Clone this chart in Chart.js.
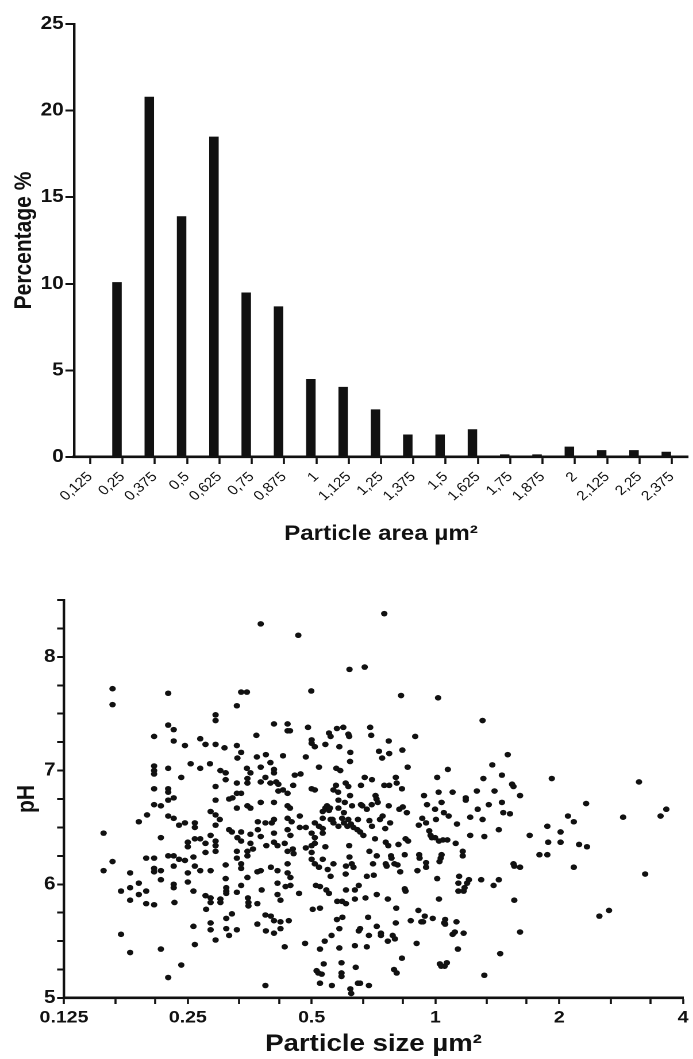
<!DOCTYPE html>
<html>
<head>
<meta charset="utf-8">
<script src="https://cdn.jsdelivr.net/npm/chart.js@4.4.1/dist/chart.umd.min.js"></script>
<style>
  html, body { margin: 0; padding: 0; background: #fff; }
  body { width: 693px; height: 1059px; position: relative; overflow: hidden; }
  /* the figure is stretched horizontally (~1.15x), so draw narrow and widen */
  canvas { position: absolute; left: 0; transform-origin: 0 0; transform: scaleX(1.1493); }
  #bars { top: 0; }
  #scatter { top: 585px; }
</style>
</head>
<body>
<canvas id="bars" width="603" height="550"></canvas>
<canvas id="scatter" width="603" height="474"></canvas>
<script>
// ---- histogram: particle area bins (µm²) vs percentage ----
const areaBins = ['0,125', '0,25', '0,375', '0,5', '0,625', '0,75', '0,875', '1', '1,125', '1,25',
  '1,375', '1,5', '1,625', '1,75', '1,875', '2', '2,125', '2,25', '2,375'];
const areaPct = [0, 10.1, 20.8, 13.9, 18.5, 9.5, 8.7, 4.5, 4.05, 2.75,
  1.3, 1.3, 1.6, 0.15, 0.15, 0.6, 0.4, 0.4, 0.3];
const pctTicks = [0, 5, 10, 15, 20, 25];

// ---- scatter: particle size (µm², log2 axis) vs pH ----
const sizeTicks = [0.125, 0.25, 0.5, 1, 2, 4];
const phTicks = [5, 6, 7, 8];

const sizeUm2 = [
  0.156, 0.156, 0.164, 0.164, 0.164, 0.172, 0.172, 0.181, 0.181, 0.181, 0.181, 0.190, 0.190, 0.190,
  0.198, 0.198, 0.198, 0.199, 0.207, 0.207, 0.207, 0.207, 0.207, 0.207, 0.207, 0.207, 0.207, 0.207,
  0.215, 0.215, 0.215, 0.215, 0.215, 0.224, 0.224, 0.224, 0.224, 0.224, 0.224, 0.224, 0.224, 0.224,
  0.231, 0.231, 0.231, 0.231, 0.231, 0.231, 0.231, 0.231, 0.232, 0.238, 0.238, 0.241, 0.241,
  0.246, 0.246, 0.246, 0.250, 0.250, 0.250, 0.250, 0.254, 0.258, 0.258, 0.258, 0.260, 0.260, 0.260,
  0.260, 0.260, 0.268, 0.268, 0.268, 0.268, 0.276, 0.276, 0.276, 0.276, 0.277, 0.283, 0.284, 0.284,
  0.284, 0.284, 0.284, 0.284, 0.284, 0.292, 0.292, 0.292, 0.292, 0.292, 0.292, 0.292, 0.292, 0.292,
  0.292, 0.292, 0.299, 0.300, 0.300, 0.300, 0.307, 0.309, 0.309, 0.309, 0.309, 0.310, 0.310, 0.310,
  0.310, 0.310, 0.315, 0.315, 0.315, 0.320, 0.320, 0.321, 0.329, 0.329, 0.329, 0.329, 0.329, 0.329,
  0.329, 0.329, 0.329, 0.330, 0.330, 0.337, 0.337, 0.337, 0.337, 0.337, 0.337, 0.337, 0.337, 0.348,
  0.348, 0.349, 0.349, 0.349, 0.349, 0.349, 0.349, 0.350, 0.351, 0.351, 0.355, 0.355, 0.355, 0.355,
  0.360, 0.367, 0.368, 0.369, 0.369, 0.369, 0.370, 0.370, 0.376, 0.376, 0.376, 0.376, 0.376, 0.376,
  0.378, 0.386, 0.386, 0.386, 0.386, 0.387, 0.387, 0.388, 0.397, 0.397, 0.398, 0.398, 0.400, 0.405,
  0.405, 0.405, 0.405, 0.405, 0.405, 0.405, 0.405, 0.405, 0.410, 0.413, 0.413, 0.413, 0.413, 0.415,
  0.415, 0.420, 0.420, 0.420, 0.426, 0.426, 0.430, 0.430, 0.432, 0.437, 0.437, 0.437, 0.437, 0.437,
  0.437, 0.437, 0.437, 0.437, 0.440, 0.443, 0.443, 0.444, 0.444, 0.444, 0.447, 0.450, 0.451, 0.452,
  0.455, 0.464, 0.466, 0.468, 0.468, 0.470, 0.482, 0.484, 0.484, 0.484, 0.490, 0.499,
  0.500, 0.500, 0.500, 0.500, 0.500, 0.500, 0.500, 0.503, 0.509, 0.509, 0.509, 0.509, 0.509, 0.509,
  0.512, 0.514, 0.519, 0.521, 0.521, 0.521, 0.524, 0.524, 0.524, 0.524, 0.529, 0.532, 0.532, 0.532,
  0.532, 0.532, 0.535, 0.538, 0.540, 0.540, 0.540, 0.543, 0.545, 0.547, 0.551, 0.551, 0.551, 0.554,
  0.556, 0.556, 0.556, 0.559, 0.560, 0.562, 0.565, 0.565, 0.565, 0.573, 0.574, 0.576, 0.576, 0.577,
  0.580, 0.581, 0.581, 0.581, 0.584, 0.584, 0.584, 0.587, 0.591, 0.591, 0.591, 0.593, 0.593, 0.594,
  0.597, 0.599, 0.599, 0.602, 0.605, 0.605, 0.606, 0.606, 0.606, 0.611, 0.614, 0.614, 0.614, 0.617,
  0.617, 0.618, 0.618, 0.620, 0.621, 0.624, 0.620, 0.621, 0.623, 0.626, 0.627, 0.632, 0.632, 0.637,
  0.637, 0.637, 0.640, 0.646, 0.648, 0.648, 0.651, 0.651, 0.656, 0.656, 0.656, 0.659, 0.659, 0.664,
  0.668, 0.673, 0.673, 0.676, 0.681, 0.681, 0.681, 0.686, 0.689, 0.689, 0.691, 0.691, 0.694, 0.698,
  0.700, 0.701, 0.701, 0.705, 0.708, 0.713, 0.715, 0.719, 0.720, 0.720, 0.720, 0.724, 0.729, 0.733,
  0.737, 0.737, 0.742, 0.744, 0.751, 0.751, 0.755, 0.757, 0.757, 0.761, 0.766, 0.766, 0.768, 0.770,
  0.770, 0.772, 0.772, 0.776, 0.780, 0.782, 0.787, 0.793, 0.795, 0.797, 0.801, 0.801, 0.803, 0.805,
  0.805, 0.809, 0.813, 0.817, 0.821, 0.825, 0.829, 0.829, 0.831, 0.833, 0.842, 0.842, 0.846, 0.846,
  0.852, 0.856, 0.858, 0.871, 0.893, 0.900, 0.904, 0.909, 0.911, 0.913, 0.915, 0.924, 0.929, 0.933,
  0.938, 0.942, 0.949, 0.949, 0.949, 0.954, 0.966, 0.973, 0.980, 0.985, 0.998, 0.998, 1.003, 1.010,
  1.010, 1.015, 1.018, 1.020, 1.020, 1.023, 1.025, 1.030, 1.033, 1.035, 1.035, 1.043, 1.048, 1.050,
  1.053, 1.066, 1.069, 1.072, 1.077,
  1.056, 1.056, 1.101, 1.101, 1.115, 1.120, 1.125, 1.128, 1.134, 1.137, 1.137, 1.142, 1.165, 1.165,
  1.171, 1.171, 1.177, 1.185, 1.185, 1.194, 1.206, 1.215, 1.215, 1.261, 1.267, 1.292, 1.302, 1.302,
  1.308, 1.315, 1.315, 1.348, 1.375, 1.385, 1.392, 1.426, 1.437, 1.426, 1.451, 1.451, 1.462, 1.499,
  1.518, 1.536, 1.548, 1.548, 1.555, 1.555, 1.606, 1.606, 1.606, 1.695, 1.79, 1.871, 1.88, 1.871,
  1.918, 2.015, 2.015, 2.10, 2.17, 2.17, 2.235, 2.336, 2.325, 2.504, 2.643, 2.86, 3.126, 3.236,
  3.527, 3.642
];
const phValues = [
  6.45, 6.12, 7.72, 7.58, 6.20, 5.56, 5.94, 6.10, 5.86, 5.97, 5.40, 6.01, 5.91, 6.55,
  6.23, 5.94, 5.83, 6.61, 7.30, 7.04, 7.00, 6.97, 6.84, 6.70, 6.23, 6.14, 6.11, 5.82,
  6.69, 6.41, 6.12, 6.04, 5.43, 5.18, 7.68, 7.40, 7.02, 6.84, 6.81, 6.74, 6.60, 6.25,
  7.36, 7.26, 6.76, 6.58, 6.25, 6.16, 6.00, 5.97, 5.84, 6.22, 6.52, 6.94, 5.29,
  7.22, 6.54, 6.21, 6.10, 6.37, 6.33, 6.02, 7.06, 6.24, 5.94, 5.63, 5.47, 6.54, 6.50,
  6.40, 6.16, 7.02, 6.40, 6.12, 7.28, 7.23, 6.36, 6.28, 5.90, 5.78, 7.06, 6.64, 6.43,
  5.66, 5.60, 5.88, 5.84, 6.12, 7.49, 7.44, 7.23, 6.86, 6.74, 6.61, 6.52, 6.38, 6.34,
  6.29, 5.51, 6.57, 7.00, 5.87, 5.84, 7.20, 6.98, 6.92, 6.17, 6.05, 5.97, 5.94, 5.92,
  5.70, 5.61, 6.75, 6.48, 5.55, 5.74, 6.46, 6.76, 7.57, 7.22, 6.89, 6.80, 6.67, 6.29,
  6.23, 5.93, 5.60, 7.11, 6.41, 7.16, 6.80, 6.46, 6.38, 6.18, 6.14, 5.99, 7.69, 7.69,
  7.02, 6.89, 6.93, 6.69, 6.29, 6.25, 6.06, 5.88, 5.84, 5.81, 6.98, 6.67, 6.44, 6.36,
  6.31, 7.31, 7.12, 5.83, 5.65, 6.11, 6.48, 6.55, 7.03, 6.90, 6.72, 6.42, 6.12, 8.29,
  5.95, 6.94, 6.54, 5.73, 5.11, 7.14, 5.59, 6.34, 7.07, 6.89, 5.72, 6.15, 6.54, 7.01,
  6.98, 6.72, 6.57, 7.41, 6.45, 6.37, 5.57, 5.68, 6.90, 5.91, 6.34, 6.12, 6.01, 6.82,
  6.88, 5.86, 5.67, 5.61, 7.13, 6.83, 6.36, 5.45, 5.98, 7.41, 7.35, 6.80, 6.69, 6.58,
  6.48, 6.29, 6.18, 6.10, 5.68, 7.35, 6.67, 6.43, 6.06, 5.99, 6.55, 6.31, 6.87, 6.27,
  6.96, 8.19, 5.92, 6.60, 6.50, 6.97, 5.48, 7.12, 6.50, 6.32, 7.38, 7.70,
  7.27, 7.24, 6.84, 6.45, 6.34, 6.28, 6.22, 5.78, 7.21, 6.83, 6.54, 6.41, 6.36, 6.18,
  5.99, 5.24, 5.22, 7.03, 6.51, 6.15, 5.98, 5.79, 5.43, 5.13, 5.21, 6.64, 6.58, 6.49,
  6.45, 6.22, 5.30, 5.50, 7.23, 6.67, 6.33, 5.95, 6.69, 6.13, 7.33, 6.65, 5.92, 6.67,
  6.57, 6.07, 7.30, 5.55, 5.11, 6.57, 6.83, 6.54, 6.18, 6.87, 7.02, 7.37, 5.69, 5.85,
  6.81, 6.74, 6.51, 6.67, 5.61, 5.44, 7.21, 7.00, 5.31, 5.22, 5.19, 6.58, 5.85, 5.71,
  7.38, 6.63, 6.54, 6.72, 6.89, 6.09, 6.16, 5.95, 5.83, 6.51, 6.86, 7.32, 6.57, 7.30,
  6.34, 6.24, 7.89, 6.78, 5.08, 5.04, 7.08, 7.16, 6.53, 6.18, 6.69, 6.50, 6.15, 5.87,
  5.95, 5.46, 5.27, 6.48, 6.57, 5.13, 5.99, 5.59, 5.61, 6.46, 5.13, 6.87, 6.70, 6.69,
  6.43, 7.91, 6.94, 5.88, 6.07, 6.66, 5.45, 5.71, 5.55, 5.11, 6.29, 6.56, 7.38, 7.31,
  6.70, 6.92, 6.51, 6.18, 6.08, 6.40, 6.78, 6.75, 6.25, 5.91, 5.63, 6.72, 7.17, 6.57,
  5.57, 5.55, 7.11, 6.60, 8.38, 6.87, 6.49, 6.37, 6.18, 6.16, 5.50, 5.87, 6.34, 6.69,
  7.26, 6.87, 7.15, 6.54, 6.25, 6.23, 5.55, 5.25, 6.18, 5.52, 5.66, 6.94, 5.79, 5.22,
  6.89, 6.17, 6.35, 6.66, 6.11, 7.66, 5.35, 6.84, 7.18, 6.68, 6.26, 5.96, 5.94, 6.40,
  6.63, 7.03, 6.38, 5.68, 7.30, 5.48, 6.12, 5.77, 6.52, 6.26, 6.23, 5.67, 6.58, 5.67,
  6.78, 5.72, 6.19, 6.15, 6.54, 6.70, 6.47, 6.43, 6.41, 5.70, 6.41, 6.66, 6.57, 6.94,
  6.05, 7.64, 6.81, 5.87, 6.38, 6.20, 5.30, 6.23, 5.28, 6.72, 6.26, 6.39, 6.63, 5.66,
  5.28, 5.31, 6.39, 7.01, 6.60,
  5.69, 5.65, 6.81, 5.56, 5.58, 6.36, 5.67, 6.53, 5.43, 6.01, 5.94, 6.07, 6.29, 6.25,
  5.57, 5.94, 5.97, 6.76, 6.74, 6.01, 6.04, 6.43, 6.59, 6.82, 6.66, 6.04, 7.44, 6.57,
  6.93, 5.20, 6.42, 6.70, 7.05, 5.99, 6.82, 6.04, 5.39, 6.48, 6.96, 6.72, 6.63, 7.14,
  6.62, 6.88, 6.86, 6.18, 6.16, 5.86, 6.78, 6.15, 5.58, 6.43, 6.26, 6.51, 6.37, 6.26,
  6.93, 6.46, 6.37, 6.60, 6.55, 6.15, 6.35, 6.33, 6.71, 5.72, 5.77, 6.59, 6.90, 6.09,
  6.60, 6.66
];

Chart.defaults.font.family = '"Liberation Sans", Arial, Helvetica, sans-serif';
Chart.defaults.color = '#111';

const ink = '#111';
// x-axis ticks are vertical strokes and get widened by the stretch, so they are drawn a bit thinner
const xGrid = { drawOnChartArea: false, drawTicks: true, tickLength: 7, tickColor: ink, tickWidth: 1.8 };
const yGrid = { drawOnChartArea: false, drawTicks: true, tickLength: 7, tickColor: ink, tickWidth: 2 };
const xBorder = { display: true, color: ink, width: 2.6 };
const yBorder = { display: true, color: ink, width: 2.2 };

// histogram; the empty second dataset only shifts each bar to the left of its tick, as in the figure
new Chart(document.getElementById('bars').getContext('2d'), {
  type: 'bar',
  data: {
    labels: areaBins,
    datasets: [
      { data: areaPct, backgroundColor: ink, borderWidth: 0, categoryPercentage: 0.683, barPercentage: 0.86 },
      { data: [], categoryPercentage: 0.683, barPercentage: 0.86 },
    ],
  },
  options: {
    responsive: false,
    animation: false,
    devicePixelRatio: 2,
    layout: { padding: { top: 24, right: 4.4, left: 0, bottom: 0 } },
    plugins: { legend: { display: false }, tooltip: { enabled: false } },
    scales: {
      x: {
        grid: { ...xGrid, offset: false },
        border: xBorder,
        ticks: { font: { size: 13.5 }, color: ink, maxRotation: 45, minRotation: 45, autoSkip: false, padding: 5 },
        title: { display: true, text: 'Particle area µm²', font: { size: 21, weight: 'bold' }, color: ink, padding: { top: 4, bottom: 3 } },
        afterFit: s => { s.height = 93; },
      },
      y: {
        min: 0, max: 25,
        grid: { ...yGrid, tickLength: 7.5 },
        border: yBorder,
        afterBuildTicks: s => { s.ticks = pctTicks.map(v => ({ value: v })); },
        ticks: { font: { size: 18, weight: 'bold' }, color: ink, padding: 1.5 },
        title: { display: true, text: 'Percentage %', font: { size: 21, weight: 'bold' }, color: ink, padding: { top: 8.7, bottom: 0 } },
        afterFit: s => { s.width = 64.4; },
      },
    },
  },
});

// scatter; log2 size axis with minor ticks at thirds of each doubling
const points = sizeUm2.map((x, i) => ({ x, y: phValues[i] }));
new Chart(document.getElementById('scatter').getContext('2d'), {
  type: 'scatter',
  data: { datasets: [{ data: points, pointRadius: 2.8, pointBackgroundColor: ink, pointBorderWidth: 0 }] },
  options: {
    responsive: false,
    animation: false,
    devicePixelRatio: 2,
    layout: { padding: { top: 15, right: 8.7, left: 0, bottom: 0 } },
    plugins: { legend: { display: false }, tooltip: { enabled: false } },
    scales: {
      x: {
        type: 'logarithmic', min: 0.125, max: 4,
        grid: { ...xGrid, tickLength: 6 },
        border: xBorder,
        afterBuildTicks: s => {
          const vals = [];
          sizeTicks.forEach((m, i) => {
            vals.push(m);
            if (i < sizeTicks.length - 1) vals.push(m * 4 / 3, m * 5 / 3);
          });
          s.ticks = vals.map(v => ({ value: v }));
        },
        ticks: {
          font: { size: 17, weight: 'bold' }, color: ink, padding: 3.5, maxRotation: 0, autoSkip: false,
          callback: v => (sizeTicks.includes(v) ? String(v) : ''),
        },
        title: { display: true, text: 'Particle size µm²', font: { size: 24, weight: 'bold' }, color: ink, padding: { top: 0, bottom: 0 } },
        afterFit: s => { s.height = 61; },
      },
      y: {
        min: 5, max: 8.5,
        grid: { ...yGrid, tickLength: 6 },
        border: yBorder,
        ticks: {
          stepSize: 0.25, font: { size: 18, weight: 'bold' }, color: ink, padding: 1.5,
          callback: v => (phTicks.includes(v) ? String(v) : ''),
        },
        title: { display: true, text: 'pH', font: { size: 21, weight: 'bold' }, color: ink, padding: { top: 11, bottom: 0 } },
        afterFit: s => { s.width = 55.7; },
      },
    },
  },
});
</script>
</body>
</html>
